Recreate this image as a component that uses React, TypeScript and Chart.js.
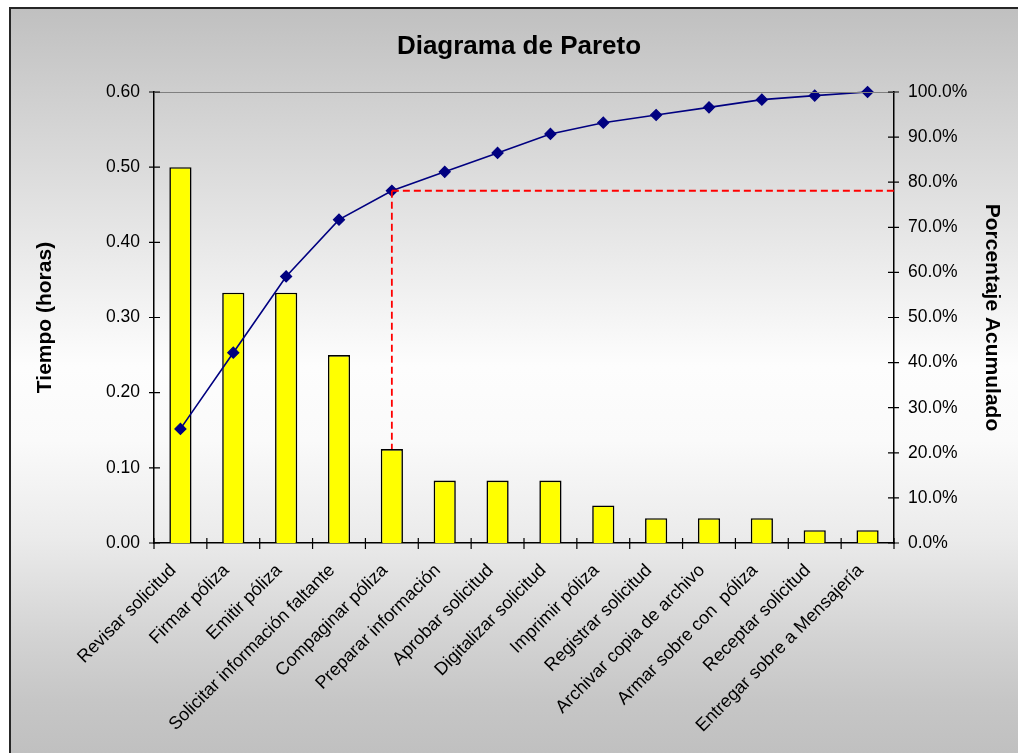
import React, { useEffect, useRef } from "react";
import { Chart, registerables } from "chart.js";

Chart.register(...registerables);

const categories = [
  "Revisar solicitud",
  "Firmar póliza",
  "Emitir póliza",
  "Solicitar información faltante",
  "Compaginar póliza",
  "Preparar información",
  "Aprobar solicitud",
  "Digitalizar solicitud",
  "Imprimir póliza",
  "Registrar solicitud",
  "Archivar copia de archivo",
  "Armar sobre con  póliza",
  "Receptar solicitud",
  "Entregar sobre a Mensajería",
];

const hours = [0.5, 0.333, 0.333, 0.25, 0.125, 0.083, 0.083, 0.083, 0.05, 0.033, 0.033, 0.033, 0.017, 0.017];

const cumulativePct = [25.3, 42.2, 59.1, 71.7, 78.1, 82.3, 86.5, 90.7, 93.2, 94.9, 96.6, 98.3, 99.2, 100];

const leftTicks = [0, 0.1, 0.2, 0.3, 0.4, 0.5, 0.6];
const rightTicks = [0, 10, 20, 30, 40, 50, 60, 70, 80, 90, 100];

const cutoffIndex = 4;

const FONT = "'Liberation Sans', Arial, sans-serif";

const decorPlugin = {
  id: "decor",
  afterDatasetsDraw(chart: any) {
    const { ctx, chartArea, scales } = chart;
    const x = scales.x;
    const y = scales.y;
    const y1 = scales.y1;
    ctx.save();
    // top border of plot
    ctx.strokeStyle = "#808080";
    ctx.lineWidth = 1;
    ctx.beginPath();
    ctx.moveTo(chartArea.left, chartArea.top + 0.5);
    ctx.lineTo(chartArea.right, chartArea.top + 0.5);
    ctx.stroke();

    // cross tick marks
    ctx.strokeStyle = "#000";
    ctx.lineWidth = 1.2;
    ctx.beginPath();
    leftTicks.forEach((v) => {
      const py = y.getPixelForValue(v);
      ctx.moveTo(chartArea.left - 5, py);
      ctx.lineTo(chartArea.left + 6, py);
    });
    rightTicks.forEach((v) => {
      const py = y1.getPixelForValue(v);
      ctx.moveTo(chartArea.right - 6, py);
      ctx.lineTo(chartArea.right + 5, py);
    });
    const n = categories.length;
    const w = (chartArea.right - chartArea.left) / n;
    for (let i = 0; i <= n; i++) {
      const px = chartArea.left + i * w;
      ctx.moveTo(px, chartArea.bottom - 5);
      ctx.lineTo(px, chartArea.bottom + 6);
    }
    ctx.stroke();

    // red dashed cutoff lines
    const cx = x.getPixelForValue(cutoffIndex);
    const cy = y1.getPixelForValue(cumulativePct[cutoffIndex]);
    const by = y.getPixelForValue(hours[cutoffIndex]);
    ctx.strokeStyle = "#ff0000";
    ctx.lineWidth = 1.8;
    ctx.setLineDash([7, 4]);
    ctx.beginPath();
    ctx.moveTo(cx, cy);
    ctx.lineTo(chartArea.right, cy);
    ctx.moveTo(cx, cy);
    ctx.lineTo(cx, by);
    ctx.stroke();
    ctx.restore();
  },
};

export default function App() {
  const canvasRef = useRef<HTMLCanvasElement | null>(null);

  useEffect(() => {
    const canvas = canvasRef.current;
    if (!canvas) return;
    const chart = new Chart(canvas, {
      type: "bar",
      data: {
        labels: categories,
        datasets: [
          {
            type: "line",
            label: "Porcentaje Acumulado",
            data: cumulativePct,
            yAxisID: "y1",
            borderColor: "#000080",
            backgroundColor: "#000080",
            borderWidth: 1.6,
            pointStyle: "rectRot",
            pointRadius: 5.5,
            pointBorderWidth: 1.2,
            pointBackgroundColor: "#000080",
            pointBorderColor: "#000080",
            tension: 0,
            clip: false,
            order: 0,
          } as any,
          {
            type: "bar",
            label: "Tiempo (horas)",
            data: hours,
            yAxisID: "y",
            backgroundColor: "#ffff00",
            borderColor: "#000000",
            borderWidth: 1.6,
            categoryPercentage: 1,
            barPercentage: 0.42,
            order: 1,
          },
        ],
      },
      options: {
        responsive: false,
        animation: false,
        layout: { padding: { left: 20, right: 0, top: 0, bottom: 0 } },
        plugins: {
          legend: { display: false },
          tooltip: { enabled: false },
          title: {
            display: true,
            text: "Diagrama de Pareto",
            color: "#000",
            font: { family: FONT, size: 26, weight: "bold" },
            padding: { top: 31.6, bottom: 29.2 },
          },
        },
        scales: {
          x: {
            type: "category",
            offset: true,
            grid: { display: false, drawTicks: false, offset: true },
            border: { display: true, color: "#000", width: 1.5 },
            ticks: {
              autoSkip: false,
              minRotation: 45,
              maxRotation: 45,
              padding: 17,
              labelOffset: -7,
              color: "#000",
              font: { family: FONT, size: 18 },
            },
            afterFit: (s: any) => {
              s.height = 210;
            },
          },
          y: {
            type: "linear",
            position: "left",
            min: 0,
            max: 0.6,
            grid: { display: false, drawTicks: false },
            border: { display: true, color: "#000", width: 1.5 },
            ticks: {
              stepSize: 0.1,
              padding: 14,
              color: "#000",
              font: { family: FONT, size: 17.5 },
              callback: (v: any) => Number(v).toFixed(2),
            },
            title: {
              display: true,
              text: "Tiempo (horas)",
              color: "#000",
              font: { family: FONT, size: 21, weight: "bold" },
              padding: { top: 13, bottom: 0 },
            },
            afterFit: (s: any) => {
              s.width = 134;
            },
          },
          y1: {
            type: "linear",
            position: "right",
            min: 0,
            max: 100,
            grid: { display: false, drawTicks: false },
            border: { display: true, color: "#000", width: 1.5 },
            ticks: {
              stepSize: 10,
              padding: 14,
              color: "#000",
              font: { family: FONT, size: 17.5 },
              callback: (v: any) => Number(v).toFixed(1) + "%",
            },
            title: {
              display: true,
              text: "Porcentaje Acumulado",
              color: "#000",
              font: { family: FONT, size: 21, weight: "bold" },
              padding: { top: 13.4, bottom: 0 },
            },
            afterFit: (s: any) => {
              s.width = 124;
            },
          },
        },
      },
      plugins: [decorPlugin],
    });
    return () => chart.destroy();
  }, []);

  return (
    <div style={{ position: "absolute", left: 0, top: 0, width: 1018, height: 753, background: "#fff" }}>
      <div
        style={{
          position: "absolute",
          left: 9,
          top: 7,
          width: 1009,
          height: 746,
          boxSizing: "border-box",
          borderTop: "2px solid #262626",
          borderLeft: "2px solid #262626",
          background:
            "linear-gradient(to bottom, #c0c0c0 0%, #cdcdcd 10%, #e6e6e6 30%, #fdfdfd 48%, #fafafa 58%, #ebebeb 71%, #d2d2d2 85%, #c6c6c6 93%, #c0c0c0 100%)",
        }}
      />
      <canvas
        ref={canvasRef}
        width={1018}
        height={753}
        style={{ position: "absolute", left: 0, top: 0, width: 1018, height: 753 }}
      />
    </div>
  );
}
